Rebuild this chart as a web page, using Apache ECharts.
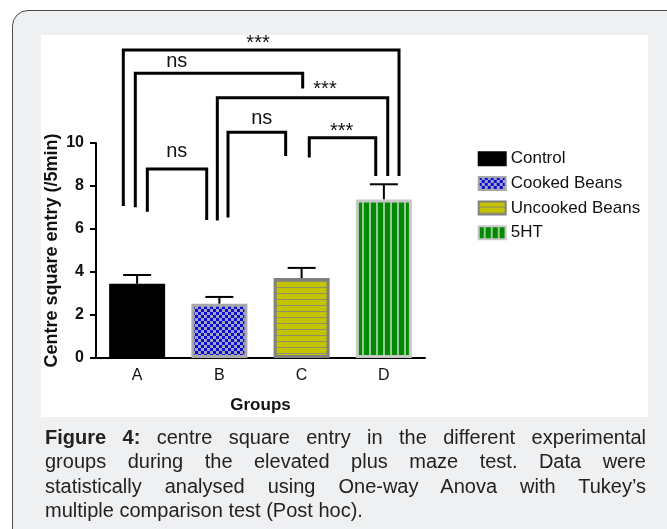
<!DOCTYPE html>
<html>
<head>
<meta charset="utf-8">
<script src="https://cdn.jsdelivr.net/npm/echarts@6/dist/echarts.min.js"></script>
<style>
  html, body { margin:0; padding:0; width:667px; height:529px; overflow:hidden; background:#fff; }
  #frame { position:absolute; left:12px; top:10px; width:720px; height:580px; border:1.5px solid #4a4a4a; border-radius:16px; background:#eff0f2; box-sizing:border-box; }
  #panel { position:absolute; left:41px; top:35px; width:607px; height:382px; background:#fff; }
  #chart { position:absolute; left:0; top:0; width:667px; height:529px; }
  #cap { position:absolute; left:45px; top:425px; width:601px; font-family:'Liberation Sans', Arial, sans-serif; font-size:20px; line-height:24.4px; color:#222; }
  #cap div { text-align:justify; text-align-last:justify; }
  #cap div.last { text-align:left; text-align-last:left; }
</style>
</head>
<body>
<div id="frame"></div>
<div id="panel"></div>
<div id="chart"></div>
<div id="cap">
  <div><b>Figure 4:</b> centre square entry in the different experimental</div>
  <div>groups during the elevated plus maze test. Data were</div>
  <div>statistically analysed using One-way Anova with Tukey’s</div>
  <div class="last">multiple comparison test (Post hoc).</div>
</div>
<script>
// ---- data ----
const categories = ['A', 'B', 'C', 'D'];
const seriesNames = ['Control', 'Cooked Beans', 'Uncooked Beans', '5HT'];
const means = [3.45, 2.52, 3.72, 7.37];
const sems = [0.41, 0.32, 0.47, 0.71];
const yMin = 0, yMax = 10, yStep = 2;
const yAxisTitle = 'Centre square entry (/5min)';
const xAxisTitle = 'Groups';

// significance brackets (x in category-index units, y in data units)
const bracketX1 = [-0.168, -0.022, 0.975, 0.124, 1.105, 2.093];
const bracketX2 = [3.184, 2.013, 3.047, 0.846, 1.806, 2.901];
const bracketYLeft = [7.07, 7.01, 6.39, 6.80, 6.53, 9.32];
const bracketYTop = [14.33, 13.24, 12.11, 8.79, 10.50, 10.25];
const bracketYRight = [8.47, 12.54, 8.47, 6.42, 9.40, 8.47];
const bracketLabels = ['***', 'ns', '***', 'ns', 'ns', '***'];
const bracketLabelX = [1.47, 0.481, 2.284, 0.481, 1.515, 2.487];
const bracketLabelY = [14.62, 13.79, 12.48, 9.60, 11.15, 10.54];

// ---- patterns ----
function makePattern(w, h, draw) {
  const c = document.createElement('canvas');
  c.width = w; c.height = h;
  draw(c.getContext('2d'));
  return { image: c, repeat: 'repeat' };
}
const checker = makePattern(6, 6, g => {
  g.fillStyle = '#a4a4c4'; g.fillRect(0, 0, 6, 6);
  g.fillStyle = '#0a0ad2'; g.fillRect(0, 0, 3, 3); g.fillRect(3, 3, 3, 3);
});
const hstripe = makePattern(6, 6, g => {
  g.fillStyle = '#c3c300'; g.fillRect(0, 0, 6, 6);
  g.fillStyle = '#8f8f6a'; g.fillRect(0, 5, 6, 1);
});
const vstripe = makePattern(7, 7, g => {
  g.fillStyle = '#008a00'; g.fillRect(0, 0, 7, 7);
  g.fillStyle = '#98c898'; g.fillRect(5, 0, 2, 7);
});
const fills = ['#000000', checker, hstripe, vstripe];
const borders = ['#000000', '#a8a8a8', '#808080', '#c8c8c8'];

const FONT = "'Liberation Sans', Arial, sans-serif";

const barSeries = seriesNames.map((name, i) => ({
  name: name,
  type: 'bar',
  stack: 'one',
  barWidth: 56,
  xAxisIndex: 0,
  yAxisIndex: 0,
  itemStyle: { color: fills[i], borderColor: borders[i], borderWidth: 3 },
  data: categories.map((c, j) => (j === i ? means[i] : null)),
  z: 2
}));

const errorSeries = {
  type: 'custom',
  xAxisIndex: 0,
  yAxisIndex: 0,
  z: 1,
  silent: true,
  data: categories.map((c, i) => [i, means[i] + sems[i]]),
  renderItem: function (params, api) {
    const i = params.dataIndex;
    const base = api.coord([i, means[i]]);
    const top = api.coord([i, means[i] + sems[i]]);
    return {
      type: 'group',
      children: [
        { type: 'line', shape: { x1: top[0], y1: base[1], x2: top[0], y2: top[1] }, style: { stroke: '#000', lineWidth: 2 } },
        { type: 'line', shape: { x1: top[0] - 14, y1: top[1], x2: top[0] + 14, y2: top[1] }, style: { stroke: '#000', lineWidth: 2 } }
      ]
    };
  }
};

const bracketSeries = {
  type: 'custom',
  xAxisIndex: 1,
  yAxisIndex: 0,
  z: 3,
  silent: true,
  clip: false,
  data: bracketX1.map((x, i) => [x, bracketYTop[i]]),
  renderItem: function (params, api) {
    const i = params.dataIndex;
    const p1 = api.coord([bracketX1[i], bracketYLeft[i]]);
    const p2 = api.coord([bracketX1[i], bracketYTop[i]]);
    const p3 = api.coord([bracketX2[i], bracketYTop[i]]);
    const p4 = api.coord([bracketX2[i], bracketYRight[i]]);
    const lp = api.coord([bracketLabelX[i], bracketLabelY[i]]);
    return {
      type: 'group',
      children: [
        { type: 'polyline', shape: { points: [p1, p2, p3, p4] }, style: { stroke: '#000', lineWidth: 3, fill: null, lineJoin: 'miter' } },
        { type: 'text', style: { text: bracketLabels[i], x: lp[0], y: lp[1], fill: '#111', font: '20px ' + FONT, align: 'center', verticalAlign: 'middle' } }
      ]
    };
  }
};

const chart = echarts.init(document.getElementById('chart'), null, { renderer: 'canvas' });
chart.setOption({
  animation: false,
  backgroundColor: 'transparent',
  textStyle: { fontFamily: FONT },
  grid: { left: 96, top: 143, width: 329, height: 215, containLabel: false },
  legend: {
    orient: 'vertical',
    left: 472.7,
    top: 145.2,
    itemWidth: 27,
    itemHeight: 13,
    itemGap: 7.7,
    itemTextGap: 11,
    icon: 'rect',
    selectedMode: false,
    data: seriesNames,
    textStyle: { fontSize: 17, lineHeight: 17, color: '#111', fontFamily: FONT }
  },
  xAxis: [
    {
      type: 'category',
      data: categories,
      axisLine: { onZero: false, lineStyle: { color: '#000', width: 2 } },
      axisTick: { alignWithLabel: true, length: 5, lineStyle: { color: '#000', width: 2 } },
      axisLabel: { fontSize: 16, color: '#111', margin: 10, fontFamily: FONT },
      name: xAxisTitle,
      nameLocation: 'middle',
      nameGap: 39,
      nameTextStyle: { fontSize: 17, fontWeight: 'bold', color: '#111', fontFamily: FONT },
      splitLine: { show: false }
    },
    {
      type: 'value',
      show: false,
      min: -0.5,
      max: 3.5,
      axisLine: { onZero: false },
      splitLine: { show: false }
    }
  ],
  yAxis: {
    type: 'value',
    min: yMin,
    max: yMax,
    interval: yStep,
    axisLine: { show: true, onZero: false, lineStyle: { color: '#000', width: 2 } },
    axisTick: { show: true, length: 6, lineStyle: { color: '#000', width: 2 } },
    axisLabel: { fontSize: 16, fontWeight: 'bold', color: '#111', margin: 12, fontFamily: FONT },
    splitLine: { show: false },
    name: yAxisTitle,
    nameLocation: 'middle',
    nameGap: 35,
    nameTextStyle: { fontSize: 18, fontWeight: 'bold', color: '#111', fontFamily: FONT }
  },
  tooltip: { show: false },
  series: barSeries.concat([errorSeries, bracketSeries])
});
</script>
</body>
</html>
